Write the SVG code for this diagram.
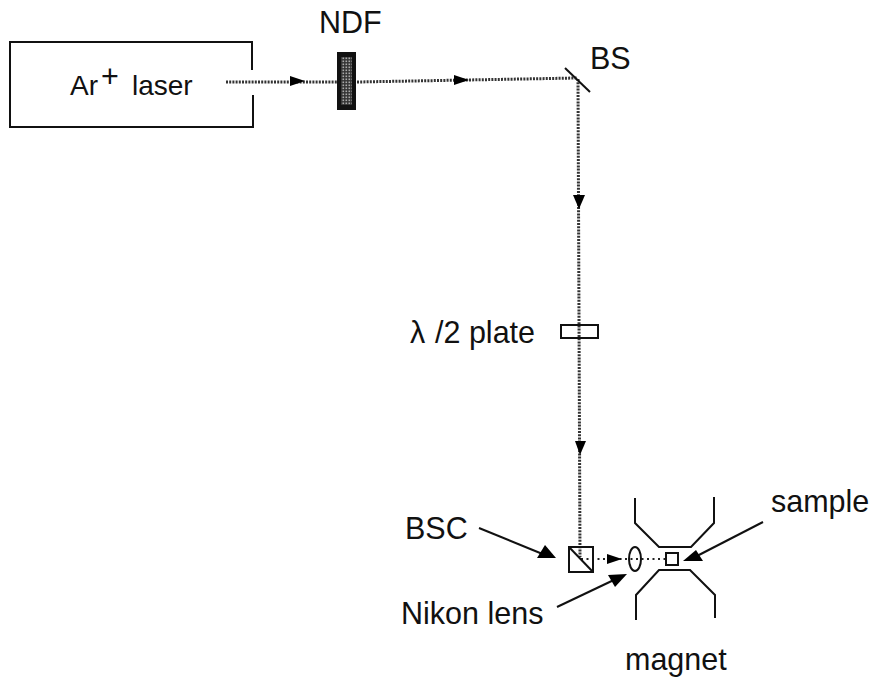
<svg xmlns="http://www.w3.org/2000/svg" width="877" height="680" viewBox="0 0 877 680">
<defs>
<pattern id="stipple" width="3" height="3" patternUnits="userSpaceOnUse"><rect width="3" height="3" fill="#333"/><rect x="0.500" y="0.500" width="1.600" height="1.600" fill="#aaa"/></pattern>
</defs>
<style>
text{font-family:"Liberation Sans",Arial,sans-serif;font-size:30.500px;fill:#111}
.o{fill:none;stroke:#111;stroke-width:2}
.beam{fill:none;stroke:#333;stroke-width:3;stroke-dasharray:2 1.200}
.thin{fill:none;stroke:#222;stroke-width:2;stroke-dasharray:2 3.500}
.a{fill:#000}
.sm{font-size:28px}
</style>
<rect width="877" height="680" fill="#fff"/>
<g id="connectors">
<path class="beam" d="M226 82H337"/>
<path class="beam" d="M357 82L577 78"/>
<path class="beam" d="M578 79L580 557"/>
<path class="thin" d="M581 559H665"/>
<path class="a" d="M290 76L305 81L290 86Z"/>
<path class="a" d="M454 75L469 80L454 85Z"/>
<path class="a" d="M573 195H585L579 209Z"/>
<path class="a" d="M575 441H586L580 455Z"/>
<path class="a" d="M607 554L622 559L607 564Z"/>
<path class="o" d="M479 528L545 555"/>
<path class="a" d="M545 545L556 558L537 558Z"/>
<path class="o" d="M557 607L618 578"/>
<path class="a" d="M608 575L627 574L615 587Z"/>
<path class="o" d="M763 522L695 557"/>
<path class="a" d="M696 550L683 561L703 561Z"/>
</g>
<g id="laser"><path class="o" d="M252 70V42H10V127H253V95"/><text x="70" y="95" class="sm">Ar</text><text x="101" y="87">+</text><text x="132" y="95" class="sm">laser</text></g>
<g id="ndf"><rect x="337" y="52" width="19" height="58" fill="#111"/><rect x="341" y="57" width="11" height="48" fill="url(#stipple)"/><text x="319" y="33">NDF</text></g>
<g id="bs"><path class="o" d="M565 68L590 92"/><text x="590" y="69">BS</text></g>
<g id="plate"><rect x="561" y="325" width="37" height="13" class="o"/><text x="410" y="343">λ</text><text x="435" y="343">/2 plate</text></g>
<g id="bsc"><rect x="569" y="547" width="24" height="25" class="o"/><path class="o" d="M569 547L593 572"/><text x="405" y="539">BSC</text></g>
<g id="lens"><ellipse cx="635" cy="559" rx="6" ry="12" class="o"/><text x="401" y="624">Nikon lens</text></g>
<g id="sample"><rect x="666" y="553" width="12" height="12" class="o"/><text x="771" y="512">sample</text></g>
<g id="magnet"><path class="o" d="M635 498V523L659 547H691L714 523V497"/><path class="o" d="M636 620V595L659 570H690L715 595V618"/><text x="625" y="670">magnet</text></g>
</svg>
